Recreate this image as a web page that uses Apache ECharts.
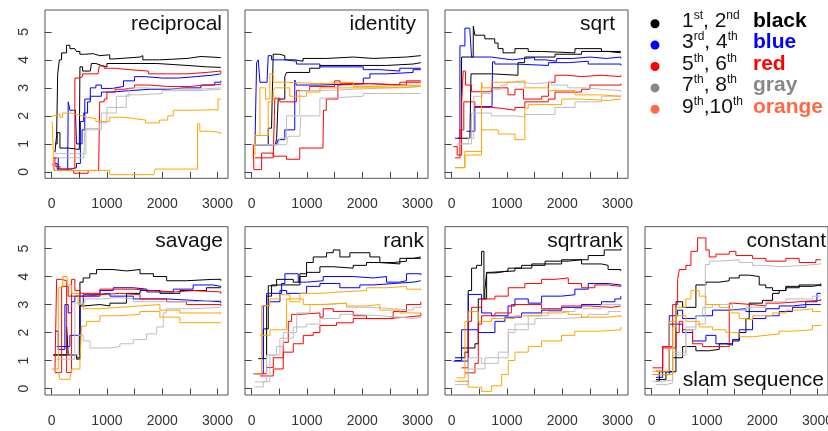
<!DOCTYPE html>
<html><head><meta charset="utf-8">
<script src="https://cdn.jsdelivr.net/npm/echarts@6.0.0/dist/echarts.min.js"></script>
<style>html,body{margin:0;padding:0;background:#fff}#c{width:828px;height:431px}</style>
</head><body><div id="c"></div>
<script>
// ---------- DATA (x = iteration, y = value) ----------
// reciprocal
const rec_k1 = [[60,0.7],[90,1.3],[110,3.5],[140,4.0],[180,4.25],[270,4.52],[330,4.4],[420,4.38],[450,4.3],[510,4.2],[600,4.22],[750,4.15],[870,4.18],[1050,4.03],[1110,4.1],[1600,4.15],[1650,4.0],[1950,4.05],[2450,4.12],[2700,4.08],[3060,4.08]];
const rec_k2 = [[60,1.0],[100,1.4],[150,0.85],[300,0.8],[500,0.78],[512,3.75],[560,3.6],[700,3.65],[720,3.87],[800,3.8],[900,3.75],[1000,3.87],[1600,3.87],[1900,3.8],[2450,3.75],[2800,3.73],[3060,3.72]];
const rec_b1 = [[60,0.5],[120,0.05],[290,0.1],[300,2.5],[330,2.2],[430,2.2],[450,1.0],[550,1.5],[600,2.6],[700,3.0],[800,3.1],[900,2.98],[1100,3.05],[1300,3.25],[1500,3.4],[1700,3.35],[2000,3.35],[2300,3.4],[2600,3.45],[2900,3.5],[3060,3.52]];
const rec_b2 = [[60,0.3],[100,0.1],[350,0.15],[450,0.3],[520,1.8],[580,2.1],[650,2.5],[700,2.7],[800,2.7],[900,2.85],[1100,2.9],[1400,2.95],[1800,2.95],[2100,3.0],[2400,3.0],[2700,3.1],[2950,3.2],[3060,3.25]];
const rec_r1 = [[20,0.5],[60,0.2],[150,0.1],[300,0.12],[420,3.35],[500,3.4],[560,3.5],[840,3.45],[860,3.78],[950,3.7],[1150,3.65],[1400,3.6],[1750,3.5],[2100,3.5],[2450,3.55],[2800,3.6],[3060,3.52]];
const rec_r2 = [[20,0.3],[50,0.05],[400,-0.05],[660,0.05],[850,0.05],[870,2.5],[950,2.6],[1000,2.85],[1150,2.95],[1300,3.0],[1500,3.1],[1750,3.05],[2100,3.05],[2500,3.1],[2800,3.12],[3060,3.15]];
const rec_g1 = [[80,0.5],[580,0.5],[600,1.5],[900,2.1],[1000,2.3],[1170,2.7],[1400,3.0],[1650,2.95],[2400,2.95],[2650,3.0],[3060,3.0]];
const rec_g2 = [[60,0.65],[520,0.65],[620,1.55],[870,1.75],[1000,2.1],[1170,2.3],[1350,2.75],[1600,2.8],[2000,2.9],[2650,2.95],[3060,2.95]];
const rec_o1 = [[10,2.0],[60,2.05],[150,1.95],[200,2.1],[350,2.05],[450,2.0],[550,1.95],[650,1.9],[800,1.8],[1050,1.95],[1300,1.9],[1500,1.85],[1700,1.75],[1950,1.85],[2100,2.0],[2200,2.2],[2600,2.22],[2950,2.2],[3010,2.6],[3060,2.62]];
const rec_o2 = [[10,1.8],[40,0.05],[1000,0.05],[1050,-0.1],[1850,-0.1],[1870,0.1],[2600,0.1],[2640,1.72],[2680,1.45],[2900,1.4],[3060,1.35]];
// identity
const id_k1 = [[30,0.97],[210,0.97],[300,1.56],[360,1.6],[390,4.2],[500,4.15],[600,4.0],[780,3.95],[930,4.05],[1350,4.1],[1840,4.05],[2200,4.1],[2800,4.15],[3060,4.15]];
const id_k2 = [[30,0.97],[430,0.97],[452,1.2],[480,2.6],[600,3.4],[630,3.55],[1050,3.7],[1235,3.8],[2000,3.8],[2440,3.85],[2920,3.9],[3060,3.9]];
const id_b1 = [[60,0.97],[90,3.9],[120,4.0],[150,3.2],[280,3.3],[300,4.15],[360,4.0],[630,3.95],[810,3.85],[1235,3.75],[2020,3.65],[2320,3.6],[2680,3.7],[3060,3.7]];
const id_b2 = [[30,0.97],[450,0.97],[480,1.15],[600,1.5],[780,3.28],[810,3.1],[1235,3.15],[2020,3.35],[2140,3.5],[2440,3.55],[2920,3.65],[3060,3.65]];
const id_r1 = [[30,0.97],[40,0.08],[180,0.67],[390,0.56],[630,0.45],[870,0.85],[1290,0.85],[1300,2.2],[1350,2.6],[1560,3.1],[1600,3.15],[2140,3.1],[2680,3.2],[3060,3.22]];
const id_r2 = [[60,0.5],[390,0.5],[420,2.63],[510,2.5],[810,2.9],[1050,3.05],[1500,3.25],[1600,3.15],[2140,3.1],[2800,3.25],[3060,3.25]];
const id_g1 = [[0,0.97],[480,0.97],[510,1.2],[630,2.0],[870,2.9],[1235,2.95],[1840,3.0],[2440,3.05],[3060,3.05]];
const id_g2 = [[30,0.97],[630,0.97],[660,1.27],[870,1.27],[890,2.0],[1235,2.63],[1300,2.7],[2020,2.8],[3060,2.82]];
const id_o1 = [[0,0.6],[60,1.3],[150,3.0],[250,2.6],[330,3.5],[390,3.2],[630,3.15],[1235,3.2],[1840,3.05],[2200,3.1],[3060,3.1]];
const id_o2 = [[90,1.3],[300,2.5],[390,2.9],[420,3.0],[690,2.7],[990,2.85],[1235,3.0],[2560,3.0],[2680,3.05],[3060,3.05]];
// sqrt
const sq_k1 = [[120,1.2],[180,4.1],[390,4.05],[392,5.2],[420,4.88],[600,4.75],[780,4.6],[840,4.4],[930,4.25],[1145,4.4],[1385,4.3],[1625,4.25],[2230,4.4],[2710,4.3],[3060,4.3]];
const sq_k2 = [[120,1.2],[330,1.2],[350,3.5],[720,3.45],[1200,3.9],[1320,4.1],[1870,4.2],[2350,4.3],[2830,4.25],[3060,4.25]];
const sq_b1 = [[60,1.2],[150,4.5],[240,5.13],[330,5.05],[360,4.1],[720,4.05],[900,4.0],[1100,4.05],[1300,4.08],[1500,4.0],[1700,3.95],[1900,4.05],[2200,4.1],[2500,4.05],[2800,4.1],[3060,4.05]];
const sq_b2 = [[270,1.45],[420,2.33],[730,2.33],[740,3.93],[780,3.85],[1145,3.8],[1750,3.9],[2110,3.95],[2470,3.85],[3060,3.8]];
const sq_r1 = [[30,0.9],[100,0.6],[180,2.5],[210,3.6],[250,3.1],[360,2.86],[720,3.0],[1020,2.75],[1145,2.95],[1300,2.6],[1630,2.7],[1750,3.2],[1870,3.45],[2100,3.4],[2350,3.45],[2700,3.4],[3060,3.45]];
const sq_r2 = [[60,0.5],[150,1.5],[220,2.5],[420,2.3],[720,2.27],[900,2.2],[1145,2.3],[1325,2.5],[1750,2.6],[1870,2.85],[2350,2.95],[2500,3.1],[3060,3.15]];
const sq_g1 = [[100,1.0],[300,1.2],[400,2.7],[550,2.8],[700,2.95],[900,3.1],[1000,3.2],[1250,3.15],[1500,3.2],[1800,3.1],[2100,3.0],[2400,2.95],[2700,2.9],[3060,2.85]];
const sq_g2 = [[180,1.0],[360,2.1],[720,2.0],[1145,1.95],[1325,2.05],[1870,2.3],[2230,2.5],[2710,2.7],[3060,2.75]];
const sq_o1 = [[60,0.15],[240,0.6],[540,3.2],[560,3.0],[723,3.2],[1080,3.25],[1325,3.0],[1750,2.9],[2230,2.75],[2710,2.7],[3060,2.72]];
const sq_o2 = [[60,0.15],[240,0.73],[540,1.5],[843,1.35],[1145,1.15],[1325,2.27],[1385,2.4],[1990,2.6],[2350,2.55],[2830,2.6],[3060,2.62]];
// savage
const sv_k1 = [[30,1.2],[240,1.2],[452,1.1],[512,3.8],[570,3.95],[690,4.1],[813,4.25],[1110,4.2],[1355,4.25],[1600,4.1],[1840,4.0],[2080,3.85],[2440,3.9],[2920,3.9],[3060,3.85]];
const sv_k2 = [[30,1.2],[271,2.2],[300,1.2],[452,1.05],[512,2.95],[572,3.0],[873,2.95],[1054,3.05],[1355,3.4],[1600,3.5],[1960,3.4],[2320,3.5],[2800,3.6],[3060,3.6]];
const sv_b1 = [[60,2.05],[120,1.4],[240,3.0],[300,2.7],[361,3.1],[420,3.3],[873,3.5],[1114,3.6],[1476,3.55],[1720,3.45],[2200,3.55],[2560,3.7],[2920,3.65],[3060,3.62]];
const sv_b2 = [[90,1.5],[330,1.9],[512,3.0],[572,3.35],[750,3.4],[1054,3.3],[1476,3.2],[2080,3.15],[2560,3.1],[3060,3.05]];
const sv_r1 = [[60,0.6],[90,3.9],[181,3.85],[271,0.57],[361,3.9],[420,3.5],[512,3.4],[873,3.55],[1476,3.5],[1840,3.45],[2200,3.5],[2560,3.45],[3060,3.38]];
const sv_r2 = [[60,0.57],[181,3.65],[300,3.3],[452,3.3],[633,3.35],[873,3.4],[1235,3.35],[1600,3.2],[2080,3.1],[2440,3.0],[3060,2.95]];
const sv_g1 = [[90,1.05],[360,1.05],[420,3.05],[600,3.2],[900,3.25],[1200,3.2],[1476,3.1],[2440,3.1],[2560,3.15],[3060,3.15]];
const sv_g2 = [[300,1.2],[480,1.9],[572,1.7],[693,1.45],[1054,1.5],[1235,1.6],[1476,1.75],[1717,1.95],[1900,2.2],[2018,2.7],[2078,2.85],[2560,2.9],[3060,2.9]];
const sv_o1 = [[0,0.7],[120,3.6],[200,4.0],[280,3.7],[361,3.4],[480,3.0],[572,2.85],[873,2.9],[1235,2.95],[1596,3.0],[1958,2.8],[2319,2.7],[3060,2.65]];
const sv_o2 = [[120,0.6],[150,0.33],[330,0.33],[361,0.7],[512,0.93],[540,2.23],[633,2.4],[873,2.6],[1235,2.65],[1596,2.75],[1958,2.55],[2319,2.35],[3060,2.35]];
// rank
const rk_k1 = [[120,1.07],[211,2.13],[301,3.67],[452,3.9],[753,3.8],[873,4.1],[994,4.5],[1114,4.7],[1355,4.85],[1476,4.95],[1596,4.7],[1777,4.85],[2139,4.7],[2319,4.5],[2560,4.55],[2801,4.65],[3060,4.65]];
const rk_k2 = [[151,1.07],[271,3.3],[361,3.7],[873,4.0],[994,4.15],[1235,4.35],[1476,4.3],[1837,4.4],[2078,4.5],[2319,4.45],[2681,4.65],[2922,4.7],[3060,4.72]];
const rk_b1 = [[30,0.53],[211,2.96],[271,3.4],[542,3.75],[602,4.1],[843,3.8],[994,3.85],[1295,4.0],[1837,3.95],[2199,4.0],[2440,3.8],[2681,3.85],[2801,4.1],[3060,4.05]];
const rk_b2 = [[331,3.1],[512,3.5],[633,3.4],[994,3.65],[1235,3.75],[1596,3.6],[1958,3.7],[2199,3.75],[2560,3.8],[2922,3.85],[3060,3.87]];
const rk_r1 = [[90,0.53],[271,0.75],[392,1.1],[572,1.65],[663,2.4],[723,2.65],[873,2.7],[1235,2.55],[1295,2.85],[1476,2.75],[1837,2.6],[2078,2.5],[2560,2.75],[2801,3.0],[3060,3.1]];
const rk_r2 = [[151,0.45],[392,0.7],[572,1.3],[753,1.6],[934,1.9],[1114,2.0],[1235,2.25],[1536,2.35],[1837,2.5],[2440,2.55],[2801,2.6],[3060,2.7]];
const rk_g1 = [[60,0.24],[271,1.2],[452,1.5],[572,2.0],[813,2.7],[1054,3.0],[1355,3.05],[1717,2.9],[2199,2.85],[2560,2.8],[2922,2.9],[3060,2.95]];
const rk_g2 = [[60,0.06],[211,0.25],[331,1.2],[512,1.8],[753,2.2],[994,2.3],[1235,2.5],[1596,2.65],[1837,2.6],[2319,2.55],[2681,2.5],[2922,2.55],[3060,2.6]];
const rk_o1 = [[30,0.53],[181,2.96],[331,3.2],[512,3.35],[693,3.1],[873,3.4],[1235,3.45],[1596,3.5],[2078,3.6],[2440,3.65],[2801,3.55],[3060,3.5]];
const rk_o2 = [[151,1.9],[331,2.1],[633,3.2],[934,3.0],[1235,3.05],[1717,2.95],[2078,3.0],[2319,2.8],[2681,2.7],[3060,2.7]];
// sqrtrank
const sr_k1 = [[60,1.1],[240,1.3],[300,3.5],[361,4.3],[450,4.4],[542,4.9],[584,3.2],[633,4.13],[800,4.2],[1020,4.3],[1265,4.4],[1690,4.55],[2110,4.6],[2350,4.45],[2710,4.4],[2830,4.25],[3060,4.2]];
const sr_k2 = [[180,1.45],[422,1.6],[482,3.2],[600,3.5],[633,4.15],[700,4.2],[1145,4.3],[1450,4.45],[1990,4.6],[2470,4.75],[2760,4.95],[3060,5.0]];
const sr_b1 = [[30,0.98],[300,3.36],[542,2.7],[723,2.6],[1020,2.95],[1145,3.2],[1386,3.05],[1627,3.3],[1990,3.35],[2229,3.55],[2470,3.75],[2831,3.7],[3060,3.65]];
const sr_b2 = [[60,1.0],[180,2.1],[482,2.0],[783,2.4],[964,2.55],[1265,2.7],[1627,2.8],[1990,2.9],[2350,3.0],[2711,3.1],[2952,3.2],[3060,3.3]];
const sr_r1 = [[181,0.74],[300,2.4],[361,2.9],[542,3.2],[783,3.3],[1024,3.6],[1325,3.75],[1627,3.9],[1867,3.95],[2110,3.75],[2350,3.6],[2590,3.7],[2831,3.65],[3060,3.65]];
const sr_r2 = [[241,0.56],[422,0.9],[482,2.3],[542,2.6],[783,2.7],[1080,3.0],[1627,2.85],[1990,2.95],[2470,2.9],[2900,2.95],[3060,2.95]];
const sr_g1 = [[120,0.26],[301,1.1],[542,0.9],[843,1.3],[1024,2.1],[1386,2.6],[1747,2.75],[2229,2.85],[2711,3.0],[3060,3.0]];
const sr_g2 = [[60,0.14],[301,0.7],[602,1.1],[1024,2.0],[1145,2.3],[1506,2.5],[1988,2.55],[2470,2.65],[2831,2.75],[3060,2.75]];
const sr_o1 = [[90,0.38],[241,2.4],[301,2.75],[482,2.4],[723,2.5],[1145,2.6],[1627,2.7],[1988,2.75],[2108,2.65],[2349,2.55],[2831,2.6],[3060,2.55]];
const sr_o2 = [[60,0.26],[301,0.05],[542,-0.1],[723,0.1],[904,0.5],[1024,1.0],[1145,1.3],[1386,1.5],[1627,1.7],[1988,1.9],[2229,2.05],[2711,2.1],[3060,2.2]];
// constant
const ct_k1 = [[78,0.32],[259,0.6],[440,3.1],[560,2.9],[801,3.7],[982,3.8],[1223,3.85],[1404,3.95],[1584,4.05],[1765,4.0],[1946,3.7],[2066,3.6],[2187,3.5],[2428,3.6],[2669,3.7],[3060,3.75]];
const ct_k2 = [[78,0.26],[139,0.6],[380,1.1],[560,1.5],[801,1.35],[1042,1.4],[1223,1.6],[1464,1.7],[1584,2.0],[1705,2.5],[1765,3.05],[2006,3.15],[2187,3.4],[2307,3.5],[2428,3.65],[2910,3.7],[3060,3.65]];
const ct_b1 = [[18,0.5],[319,2.6],[470,2.8],[560,2.5],[801,2.6],[1102,2.8],[1404,2.85],[1705,2.75],[2066,2.85],[2307,2.95],[2548,3.0],[2789,3.1],[2990,3.4],[3060,3.4]];
const ct_b2 = [[78,0.4],[199,1.5],[319,2.3],[560,2.0],[741,1.7],[982,1.9],[1163,1.6],[1343,1.55],[1464,1.75],[1584,2.1],[1825,2.5],[2066,2.6],[2307,2.75],[2548,2.9],[2789,3.0],[3060,3.02]];
const ct_r1 = [[18,0.74],[200,1.5],[380,3.0],[470,3.9],[500,4.25],[620,4.4],[711,4.9],[831,5.38],[982,4.95],[1042,4.7],[1163,4.8],[1404,4.9],[1524,4.75],[1825,4.65],[2066,4.55],[2428,4.65],[2669,4.5],[2970,4.6],[3060,4.6]];
const ct_r2 = [[78,0.62],[199,1.45],[440,2.0],[500,2.4],[560,2.1],[741,1.6],[922,1.5],[1343,1.5],[1404,3.05],[1464,3.0],[1825,2.95],[2066,3.05],[2307,3.1],[2669,3.15],[3060,3.2]];
const ct_g1 = [[18,0.26],[199,0.3],[380,1.3],[620,2.1],[800,2.3],[970,4.43],[1042,4.55],[1223,4.6],[1584,4.5],[1825,4.4],[2066,4.35],[2307,4.4],[2789,4.45],[3060,4.48]];
const ct_g2 = [[78,0.14],[259,0.2],[380,1.2],[620,2.2],[801,2.6],[922,2.9],[1102,3.0],[1464,2.8],[1705,2.9],[2066,3.1],[2428,3.2],[2910,3.3],[3060,3.3]];
const ct_o1 = [[18,0.62],[319,2.4],[440,2.9],[620,3.2],[711,3.5],[861,3.3],[982,3.0],[1223,2.9],[1404,2.7],[1584,2.5],[1705,2.45],[1825,2.6],[2187,2.7],[2428,2.8],[2669,2.85],[2910,2.75],[3060,2.75]];
const ct_o2 = [[18,0.5],[380,2.2],[440,2.6],[620,2.4],[861,2.2],[1102,2.1],[1343,2.0],[1584,1.85],[1825,1.9],[2066,1.95],[2307,2.05],[2548,2.1],[2910,2.25],[3060,2.3]];

const panelNames = ['reciprocal','identity','sqrt','savage','rank','sqrtrank','constant'];
const panelData = [
  [rec_k1,rec_k2,rec_b1,rec_b2,rec_r1,rec_r2,rec_g1,rec_g2,rec_o1,rec_o2],
  [id_k1,id_k2,id_b1,id_b2,id_r1,id_r2,id_g1,id_g2,id_o1,id_o2],
  [sq_k1,sq_k2,sq_b1,sq_b2,sq_r1,sq_r2,sq_g1,sq_g2,sq_o1,sq_o2],
  [sv_k1,sv_k2,sv_b1,sv_b2,sv_r1,sv_r2,sv_g1,sv_g2,sv_o1,sv_o2],
  [rk_k1,rk_k2,rk_b1,rk_b2,rk_r1,rk_r2,rk_g1,rk_g2,rk_o1,rk_o2],
  [sr_k1,sr_k2,sr_b1,sr_b2,sr_r1,sr_r2,sr_g1,sr_g2,sr_o1,sr_o2],
  [ct_k1,ct_k2,ct_b1,ct_b2,ct_r1,ct_r2,ct_g1,ct_g2,ct_o1,ct_o2]
];
const xTicks = [0,500,1000,1500,2000,2500,3000];
const xTickLabels = [0,1000,2000,3000];
const yTicks = [0,1,2,3,4,5];
const lineColors = ['#000000','#000000','#0000ff','#0000ff','#ff0000','#ff0000','#bebebe','#bebebe','#ffa500','#ffa500'];
const legendRanks = [['1','st',', 2','nd'],['3','rd',', 4','th'],['5','th',', 6','th'],['7','th',', 8','th'],['9','th',',10','th']];
const legendWords = ['black','blue','red','gray','orange'];
const legendColors = ['#000000','#0000ff','#ff0000','#888888','#ff6946'];

// ---------- LAYOUT ----------
const cells = [[0,0],[1,0],[2,0],[0,1],[1,1],[2,1],[3,1]]; // [col,row]
const titleRight = [222,416,615,223,424,623,826];
const FONT = '"Liberation Sans", Arial, sans-serif';

const grids = [], xAxes = [], yAxes = [], series = [], graphics = [];
panelData.forEach((lines, i) => {
  const [c, r] = cells[i];
  grids.push({left: 45 + 200*c, top: 10 + 216.7*r, width: 183, height: 168.3,
    outerBoundsMode: 'none', containLabel: false,
    show: true, borderColor: '#555', borderWidth: 1, backgroundColor: 'transparent'});
  xAxes.push({type: 'value', gridIndex: i, min: -120, max: 3190,
    axisLine: {show: false}, splitLine: {show: false},
    axisTick: {show: true, length: 6, customValues: xTicks, lineStyle: {color: '#444', width: 1}},
    axisLabel: {customValues: xTickLabels, formatter: v => String(v), fontSize: 14, color: '#333', margin: 19, fontFamily: FONT, hideOverlap: false}});
  yAxes.push({type: 'value', gridIndex: i, min: -0.23, max: 5.78,
    axisLine: {show: false}, splitLine: {show: false},
    axisTick: {show: true, length: 7, customValues: yTicks, lineStyle: {color: '#444', width: 1}},
    axisLabel: {show: c === 0, customValues: yTicks, rotate: 90, fontSize: 14, color: '#333', margin: 14, fontFamily: FONT}});
  lines.forEach((d, k) => {
    series.push({type: 'line', xAxisIndex: i, yAxisIndex: i, data: d, step: 'end',
      symbol: 'none', silent: true, clip: true,
      lineStyle: {color: lineColors[k], width: 1}});
  });
  graphics.push({type: 'text', x: titleRight[i], y: 24.5 + 216.7*r,
    style: {text: panelNames[i], font: '21px ' + FONT, fill: '#111', align: 'right', verticalAlign: 'middle'}});
});
graphics.push({type: 'text', x: 824, y: 380,
  style: {text: 'slam sequence', font: '21px ' + FONT, fill: '#111', align: 'right', verticalAlign: 'middle'}});

legendRanks.forEach((p, j) => {
  const y = 31.7 + 21.4*j;
  graphics.push({type: 'circle', shape: {cx: 655, cy: y - 8, r: 4.5}, style: {fill: legendColors[j]}});
  graphics.push({type: 'text', x: 682, y: y, style: {
    text: '{n|' + p[0] + '}{s|' + p[1] + '}{n|' + p[2] + '}{s|' + p[3] + '}',
    verticalAlign: 'bottom', align: 'left',
    rich: {n: {fontSize: 21, fontFamily: FONT, fill: '#111', verticalAlign: 'bottom', lineHeight: 22},
           s: {fontSize: 12, fontFamily: FONT, fill: '#111', verticalAlign: 'top', lineHeight: 22}}}});
  graphics.push({type: 'text', x: 753, y: y, style: {
    text: legendWords[j], font: 'bold 21px ' + FONT, fill: legendColors[j], align: 'left', verticalAlign: 'bottom'}});
});

const chart = echarts.init(document.getElementById('c'), null, {renderer: 'canvas'});
chart.setOption({animation: false, backgroundColor: '#fff',
  grid: grids, xAxis: xAxes, yAxis: yAxes, series: series, graphic: graphics});
</script></body></html>
